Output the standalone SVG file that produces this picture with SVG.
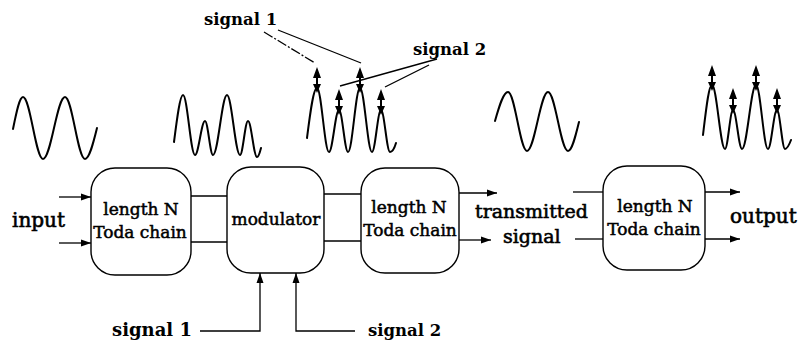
<svg xmlns="http://www.w3.org/2000/svg" width="800" height="348" viewBox="0 0 800 348">
<style>
.box{fill:#fff;stroke:#000;stroke-width:1.4}
.wave{fill:none;stroke:#000;stroke-width:2;stroke-linecap:round}
.ln{fill:none;stroke:#000;stroke-width:1.3}
.t{font-family:"DejaVu Serif","Liberation Serif",serif;font-size:17px;fill:#000;stroke:#000;stroke-width:0.5}
.lbl{font-family:"DejaVu Serif","Liberation Serif",serif;font-size:20px;fill:#000;stroke:#000;stroke-width:0.6}
.sig{font-family:"DejaVu Serif","Liberation Serif",serif;font-weight:bold;fill:#000}
</style>
<defs>
<marker id="ah" markerUnits="userSpaceOnUse" markerWidth="11" markerHeight="8" refX="10" refY="4" orient="auto">
<path d="M0,0.5 L10,4 L0,7.5 Z" fill="#000"/>
</marker>
<g id="dbl">
<path d="M0,-21 L-4,-10 L4,-10 Z M-4,-4 L4,-4 L0,5 Z" fill="#000"/>
<line x1="0" y1="-11" x2="0" y2="-3" stroke="#000" stroke-width="2"/>
</g>
</defs>

<g id="waves">
<path class="wave" d="M13,129 C16.3,112.6 19.4,97 23,97 C30.3,97 35.7,159 43,159 C51,159 57,97 65,97 C72.3,97 77.7,159 85,159 C89.3,159 93.1,143.9 97,128"/>
<path class="wave" d="M174,142 C177,118.5 180,95 183,95 C187.4,95 190.6,155 195,155 C198.6,155 201.4,121 205,121 C207.9,121 210.1,155 213,155 C218.1,155 221.9,95 227,95 C231.7,95 235.3,155 240,155 C242.9,155 245.1,121 248,121 C251.3,121 253.7,157 257,157 C258.5,157 260,152 261,148"/>
<path class="wave" d="M307,138 C310.3,112 313.4,88 317,88 C321.4,88 324.6,152 329,152 C332.6,152 335.4,110 339,110 C342.3,110 344.7,152 348,152 C352.4,152 355.6,88 360,88 C364.4,88 367.6,152 372,152 C375.3,152 377.7,110 381,110 C384.3,110 386.7,152 390,152 C392.2,152 394.5,148 396,143"/>
<path class="wave" d="M495,121 C499.2,106.1 503.3,92 508,92 C514.9,92 520.1,151 527,151 C534.6,151 540.4,92 548,92 C555.3,92 560.7,151 568,151 C572,151 575.4,136.8 579,122"/>
<path class="wave" d="M703,135 C706,110 708.7,85 712,85 C716.7,85 720.3,149 725,149 C727.9,149 730.1,110 733,110 C736.3,110 738.7,149 742,149 C747.1,149 750.9,85 756,85 C760.4,85 763.6,149 768,149 C771.3,149 773.7,110 777,110 C779.9,110 782.1,149 785,149 C787.2,149 789.3,144.5 791,140"/>
</g>

<g id="peak-arrows">
<use href="#dbl" x="317" y="88"/>
<use href="#dbl" x="339" y="110"/>
<use href="#dbl" x="360" y="88"/>
<use href="#dbl" x="381" y="110"/>
<use href="#dbl" x="712" y="86"/>
<use href="#dbl" x="733" y="109"/>
<use href="#dbl" x="756" y="86"/>
<use href="#dbl" x="777" y="109"/>
</g>

<g id="node-chain1">
<rect class="box" x="91" y="168" width="100" height="107" rx="24"/>
<text class="t" x="141" y="215" text-anchor="middle">length N</text>
<text class="t" x="140" y="238" text-anchor="middle">Toda chain</text>
</g>
<g id="node-modulator">
<rect class="box" x="227" y="167" width="97" height="106" rx="24"/>
<text class="t" x="276" y="225" text-anchor="middle">modulator</text>
</g>
<g id="node-chain2">
<rect class="box" x="361" y="168" width="98" height="105" rx="24"/>
<text class="t" x="409" y="213" text-anchor="middle">length N</text>
<text class="t" x="410" y="236" text-anchor="middle">Toda chain</text>
</g>
<g id="node-chain3">
<rect class="box" x="603" y="166" width="102" height="104" rx="24"/>
<text class="t" x="655" y="212" text-anchor="middle">length N</text>
<text class="t" x="654" y="235" text-anchor="middle">Toda chain</text>
</g>

<g id="connectors">
<line class="ln" x1="59" y1="197" x2="91" y2="197" marker-end="url(#ah)"/>
<line class="ln" x1="59" y1="243" x2="91" y2="243" marker-end="url(#ah)"/>
<line class="ln" x1="191" y1="196" x2="227" y2="196"/>
<line class="ln" x1="191" y1="242" x2="227" y2="242"/>
<line class="ln" x1="324" y1="194" x2="361" y2="194"/>
<line class="ln" x1="324" y1="241" x2="361" y2="241"/>
<line class="ln" x1="459" y1="193" x2="497" y2="193" marker-end="url(#ah)"/>
<line class="ln" x1="459" y1="240" x2="491" y2="240" marker-end="url(#ah)"/>
<line class="ln" x1="573" y1="192" x2="603" y2="192"/>
<line class="ln" x1="575" y1="239" x2="603" y2="239"/>
<line class="ln" x1="705" y1="192" x2="740" y2="192" marker-end="url(#ah)"/>
<line class="ln" x1="705" y1="239" x2="740" y2="239" marker-end="url(#ah)"/>
<polyline class="ln" points="200,331 260,331 260,273" marker-end="url(#ah)"/>
<polyline class="ln" points="355,331 296,331 296,273" marker-end="url(#ah)"/>
<line class="ln" x1="264" y1="32" x2="315" y2="63" stroke-dasharray="10 2 2 2"/>
<line class="ln" x1="278" y1="30" x2="361" y2="63"/>
<line class="ln" x1="437" y1="59" x2="340" y2="86"/>
<line class="ln" x1="429" y1="65" x2="385" y2="87"/>
</g>

<g id="labels">
<text class="lbl" x="12" y="227">input</text>
<text class="lbl" x="730" y="223">output</text>
<text class="lbl" x="475" y="218" style="font-size:19px">transmitted</text>
<text class="lbl" x="503" y="243" style="font-size:19px">signal</text>
<text class="sig" x="204" y="25" style="font-size:16.5px">signal 1</text>
<text class="sig" x="413" y="55" style="font-size:16.5px">signal 2</text>
<text class="sig" x="112" y="336" style="font-size:18px">signal 1</text>
<text class="sig" x="368" y="336" style="font-size:16.5px">signal 2</text>
</g>
</svg>
